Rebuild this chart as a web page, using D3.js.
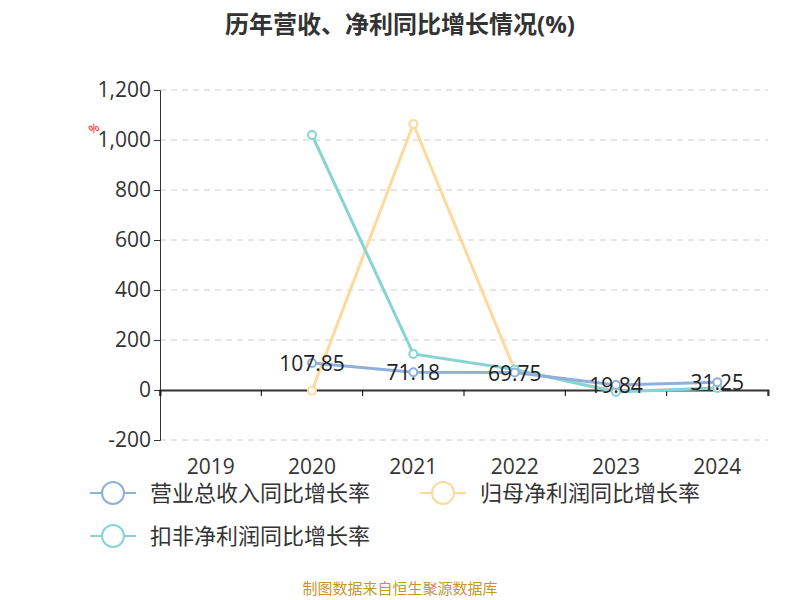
<!DOCTYPE html><html><head><meta charset="utf-8"><script src="https://cdn.jsdelivr.net/npm/d3@7"></script>
<style>body{margin:0;background:#fff}text{font-family:"Open Sans","Noto Sans CJK SC",sans-serif}</style></head><body>
<svg id="c" width="800" height="600"></svg>
<script>
const years=["2019","2020","2021","2022","2023","2024"];
const revenue=[null,107.85,71.18,69.75,19.84,31.25];
const netProfit=[null,-3,1064,80,-5,8];
const deductProfit=[null,1020,144,82,-8,8];
const yTicks=[-200,0,200,400,600,800,1000,1200];
const names=["营业总收入同比增长率","归母净利润同比增长率","扣非净利润同比增长率"];
const colors=["#8fb0dc","#fdd99c","#86d4d4"];
const svg=d3.select("#c");
const x=d3.scaleBand().domain(years).range([160,768]);
const y=d3.scaleLinear().domain([-200,1200]).range([440,90]);
svg.append("text").attr("x",400).attr("y",33).attr("text-anchor","middle").attr("font-size",24).attr("font-weight","bold").attr("fill","#333").text("历年营收、净利同比增长情况(%)");
yTicks.forEach(t=>{if(t!==0)svg.append("line").attr("x1",160).attr("x2",768).attr("y1",y(t)).attr("y2",y(t)).attr("stroke","#ccc").attr("stroke-dasharray","6,5");});
const ya=svg.append("g").attr("transform","translate(160,0)").call(d3.axisLeft(y).tickValues(yTicks).tickFormat(d=>d3.format(",")(d).replace("−","-")).tickSize(6));
ya.selectAll("text").attr("font-size",21).attr("fill","#333");ya.select(".domain").attr("stroke","#333");ya.selectAll("line").attr("stroke","#333");
const xa=svg.append("g").attr("transform",`translate(0,${y(0)})`).call(d3.axisBottom(x).tickSize(6).tickSizeOuter(6));
xa.selectAll(".tick line").attr("transform",`translate(${-x.bandwidth()/2},0)`);
xa.append("line").attr("x1",768).attr("x2",768).attr("y1",0).attr("y2",6).attr("stroke","#333");
xa.selectAll("text").attr("font-size",21).attr("fill","#333").attr("dy",0).attr("y",y(-200)-y(0)+34);
xa.select(".domain").attr("stroke","#333").attr("stroke-width",2);
svg.append("text").attr("transform","translate(96,132) rotate(-30)").attr("font-size",12).attr("fill","red").attr("text-anchor","middle").text("%");
const series=[revenue,netProfit,deductProfit];
const cx=d=>x(d)+x.bandwidth()/2;
[1,2,0].forEach(i=>{
 const pts=years.map((yr,j)=>[yr,series[i][j]]).filter(p=>p[1]!==null);
 svg.append("path").attr("d",d3.line().x(p=>cx(p[0])).y(p=>y(p[1]))(pts)).attr("fill","none").attr("stroke",colors[i]).attr("stroke-width",3);
 pts.forEach(p=>svg.append("circle").attr("cx",cx(p[0])).attr("cy",y(p[1])).attr("r",4).attr("fill","#fff").attr("stroke",colors[i]).attr("stroke-width",2));
});
years.forEach((yr,j)=>{if(revenue[j]!==null)svg.append("text").attr("x",cx(yr)).attr("y",y(revenue[j])+8).attr("text-anchor","middle").attr("font-size",21).attr("fill","#222").text(revenue[j].toFixed(2));});
const leg=[[90,493],[420,493],[90,536]];
names.forEach((n,i)=>{const [lx,ly]=leg[i];
 svg.append("line").attr("x1",lx).attr("x2",lx+46).attr("y1",ly).attr("y2",ly).attr("stroke",colors[i]).attr("stroke-width",2);
 svg.append("circle").attr("cx",lx+23).attr("cy",ly).attr("r",11).attr("fill","#fff").attr("stroke",colors[i]).attr("stroke-width",2);
 svg.append("text").attr("x",lx+60).attr("y",ly+8).attr("font-size",22).attr("fill","#333").text(n);});
svg.append("text").attr("x",400).attr("y",594).attr("text-anchor","middle").attr("font-size",15).attr("fill","#c8962e").text("制图数据来自恒生聚源数据库");
</script></body></html>
